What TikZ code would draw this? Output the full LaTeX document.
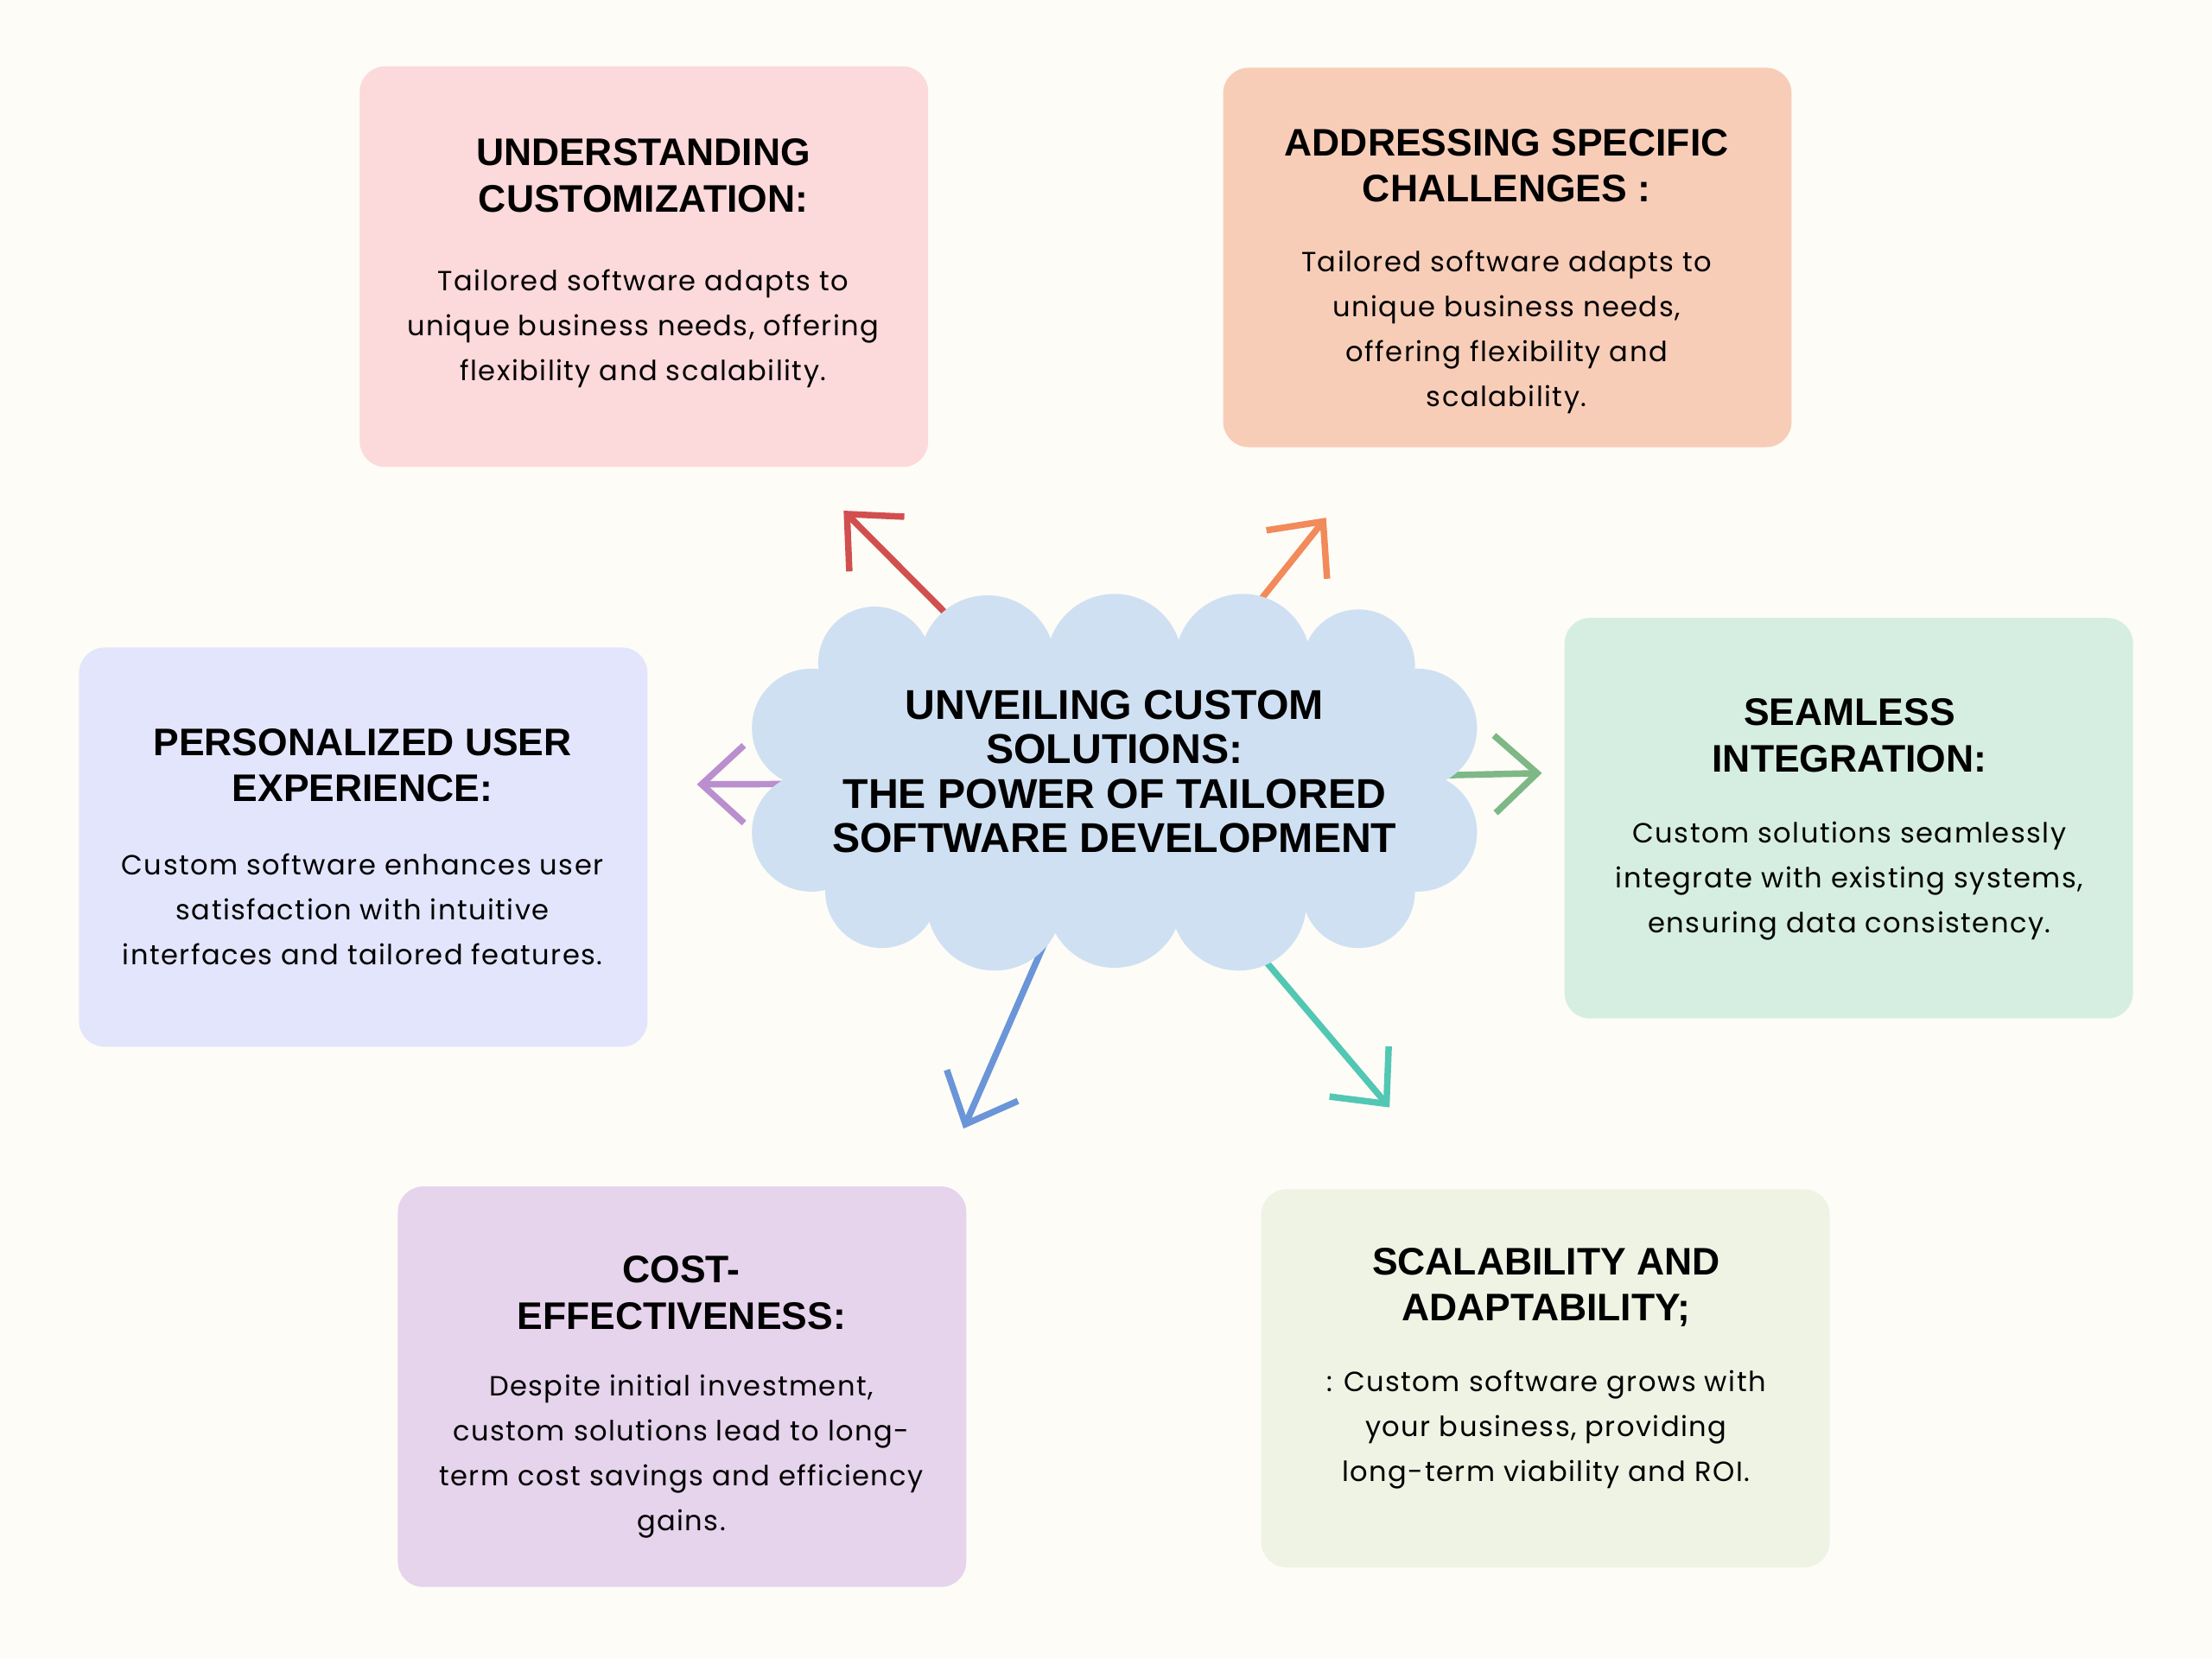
\documentclass[tikz,border=0pt]{standalone}
\usepackage{fontspec}
\setmainfont{Poppins}[LetterSpace=4.5]
\newfontfamily\headfont{Liberation Sans}
\usetikzlibrary{arrows.meta}

\definecolor{bgcream}{HTML}{FDFCF7}
\definecolor{cloudblue}{HTML}{CFE0F2}
\definecolor{pinkbox}{HTML}{FCD9DA}
\definecolor{peachbox}{HTML}{F8CDB8}
\definecolor{mintbox}{HTML}{D6EEE2}
\definecolor{lavbox}{HTML}{E3E5FC}
\definecolor{lilacbox}{HTML}{E6D3EC}
\definecolor{sagebox}{HTML}{EEF3E4}
\definecolor{redarrow}{HTML}{D1504F}
\definecolor{orangearrow}{HTML}{F28A5A}
\definecolor{greenarrow}{HTML}{7DB886}
\definecolor{purplearrow}{HTML}{B98FCF}
\definecolor{bluearrow}{HTML}{6A95D8}
\definecolor{tealarrow}{HTML}{52C7B3}

\tikzset{
  card/.style={rounded corners=0.36cm, minimum width=8.06cm, inner sep=0pt},
  cardhead/.style={align=center, inner sep=0pt, font=\headfont\bfseries\fontsize{15.5}{18.7}\selectfont},
  cardbody/.style={align=center, inner sep=0pt, font=\fontsize{11.2}{18.1}\selectfont},
  sketch/.style={line width=2.6pt, line cap=round, line join=round, -{Straight Barb[length=0.6cm, width=1.1cm]}},
}

\begin{document}
\begin{tikzpicture}[x=0.02cm, y=-0.02cm]
\fill[bgcream] (0,0) rectangle (1568,1176);
\useasboundingbox (0,0) rectangle (1568,1176);
% boxes
\node[card, fill=pinkbox, minimum height=5.68cm] (uc) at (456.5,189) {};
\node[card, fill=peachbox, minimum height=5.38cm] (asc) at (1068.5,182.5) {};
\node[card, fill=mintbox, minimum height=5.68cm] (si) at (1310.5,580) {};
\node[card, fill=lavbox, minimum height=5.66cm] (pux) at (257.5,600.5) {};
\node[card, fill=lilacbox, minimum height=5.68cm] (ce) at (483.5,983) {};
\node[card, fill=sagebox, minimum height=5.36cm] (sa) at (1095.5,977) {};
% texts
\node[cardhead] (ucH) at (456,124.5) {UNDERSTANDING\\CUSTOMIZATION:};
\node[cardbody] (ucB) at (456,233) {Tailored software adapts to\\unique business needs, offering\\flexibility and scalability.};
\node[cardhead] (ascH) at (1068,117.5) {ADDRESSING SPECIFIC\\CHALLENGES :};
\node[cardbody] (ascB) at (1068,235.5) {Tailored software adapts to\\unique business needs,\\offering flexibility and\\scalability.};
\node[cardhead] (siH) at (1311,521.5) {SEAMLESS\\INTEGRATION:};
\node[cardbody] (siB) at (1311,624.5) {Custom solutions seamlessly\\integrate with existing systems,\\ensuring data consistency.};
\node[cardhead] (puxH) at (257,542.5) {PERSONALIZED USER\\EXPERIENCE:};
\node[cardbody] (puxB) at (257,644.5) {Custom software enhances user\\satisfaction with intuitive\\interfaces and tailored features.};
\node[cardhead] (ceH) at (483,916.5) {COST-\\EFFECTIVENESS:};
\node[cardbody] (ceB) at (483,1032.5) {Despite initial investment,\\custom solutions lead to long-\\term cost savings and efficiency\\gains.};
\node[cardhead] (saH) at (1096,912.5) {SCALABILITY AND\\ADAPTABILITY;};
\node[cardbody] (saB) at (1096,1013.5) {: Custom software grows with\\your business, providing\\long-term viability and ROI.};
% centre cloud (puffs drawn over the arrow tails)
\node[minimum width=10.24cm, minimum height=5.4cm, inner sep=0pt] (cloud) at (790,555) {};
\coordinate (redtip) at (598,362);
\coordinate (orangetip) at (940,367);
\coordinate (greentip) at (1093,548);
\coordinate (purpletip) at (494,556);
\coordinate (bluetip) at (683,800);
\coordinate (tealtip) at (985,785);
\draw[sketch, draw=redarrow] (cloud.center) -- (redtip);
\draw[sketch, draw=orangearrow] (cloud.center) -- (orangetip);
\draw[sketch, draw=greenarrow] (cloud.center) -- (greentip);
\draw[sketch, draw=purplearrow] (cloud.center) -- (purpletip);
\draw[sketch, draw=bluearrow] (cloud.center) -- (bluetip);
\draw[sketch, draw=tealarrow] (cloud.center) -- (tealtip);
\fill[cloudblue] (590,475) rectangle (990,635);
\foreach \px/\py/\pr in {620/470/40, 700/470/48, 790/469/48, 881/469/48, 963/472/40,
                         575/516/42, 575/590/42, 1005/516/42, 1005/590/42,
                         625/632/40, 705/640/48, 790/638/48, 878/640/48, 963/632/40}
  \fill[cloudblue] (\px,\py) circle[radius=\pr*0.02cm];
\node[align=center, inner sep=0pt, font=\headfont\bfseries\fontsize{16.8}{17.9}\selectfont] (title) at (cloud.center) [yshift=0.16cm] {UNVEILING CUSTOM\\SOLUTIONS:\\THE POWER OF TAILORED\\SOFTWARE DEVELOPMENT};
\end{tikzpicture}
\end{document}
